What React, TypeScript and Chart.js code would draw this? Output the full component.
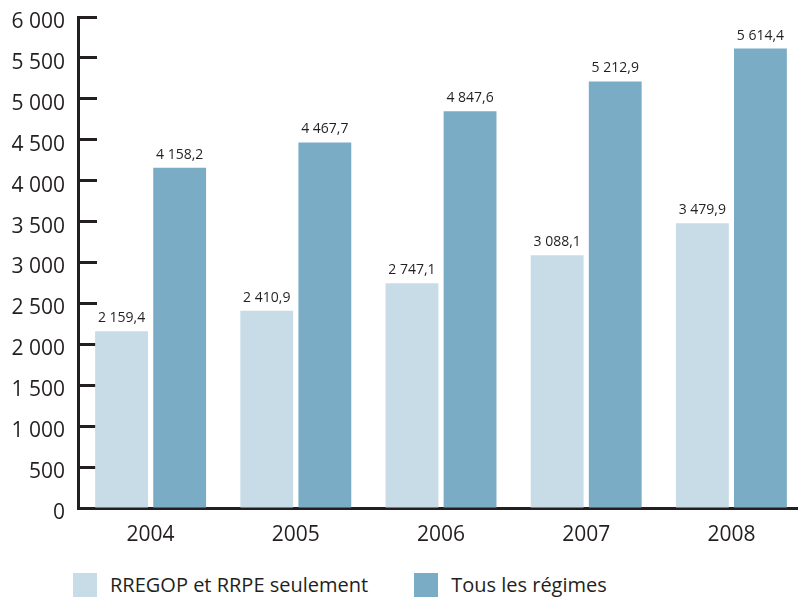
import React, { useEffect, useRef } from "react";
import { Chart, registerables } from "chart.js";

Chart.register(...registerables);

// Years on the category axis
const years = ["2004", "2005", "2006", "2007", "2008"];
// RREGOP and RRPE plans only
const rregopRrpe = [2159.4, 2410.9, 2747.1, 3088.1, 3479.9];
// All plans combined
const tousRegimes = [4158.2, 4467.7, 4847.6, 5212.9, 5614.4];
// Legend labels
const seriesLabels = ["RREGOP et RRPE seulement", "Tous les régimes"];

const LIGHT = "#c7dce6";
const DARK = "#7aacc5";
const INK = "#231f20";
const FONT = "'Open Sans', 'DejaVu Sans', sans-serif";

// French number formatting: space thousands, comma decimals
function frNumber(v: number, decimals: number): string {
  const fixed = v.toFixed(decimals);
  const [intPart, decPart] = fixed.split(".");
  const grouped = intPart.replace(/\B(?=(\d{3})+(?!\d))/g, " ");
  return decPart !== undefined ? `${grouped},${decPart}` : grouped;
}

const valueLabels = {
  id: "valueLabels",
  afterDatasetsDraw(chart: any) {
    const ctx = chart.ctx;
    ctx.save();
    ctx.font = `14px ${FONT}`;
    ctx.fillStyle = INK;
    ctx.textAlign = "center";
    ctx.textBaseline = "bottom";
    chart.data.datasets.forEach((ds: any, di: number) => {
      const meta = chart.getDatasetMeta(di);
      meta.data.forEach((bar: any, i: number) => {
        ctx.fillText(frNumber(ds.data[i], 1), bar.x, bar.y - 6);
      });
    });
    ctx.restore();
  },
};

export default function App() {
  const canvasRef = useRef<HTMLCanvasElement | null>(null);

  useEffect(() => {
    document.body.style.margin = "0";
    const canvas = canvasRef.current;
    if (!canvas) return;
    const chart = new Chart(canvas, {
      type: "bar",
      data: {
        labels: years,
        datasets: [
          {
            label: seriesLabels[0],
            data: rregopRrpe,
            backgroundColor: LIGHT,
            categoryPercentage: 0.8,
            barPercentage: 0.91,
          },
          {
            label: seriesLabels[1],
            data: tousRegimes,
            backgroundColor: DARK,
            categoryPercentage: 0.8,
            barPercentage: 0.91,
          },
        ],
      },
      options: {
        responsive: false,
        animation: false,
        layout: { padding: { top: 17, left: 0, right: 0, bottom: 0 } },
        plugins: {
          legend: { display: false },
          tooltip: { enabled: false },
        },
        scales: {
          x: {
            grid: { display: false },
            border: { display: true, color: INK, width: 3 },
            ticks: {
              color: INK,
              font: { family: FONT, size: 21 },
              padding: 6,
            },
            afterFit(scale: any) {
              scale.height = 52;
              scale.paddingLeft = 0;
              scale.paddingRight = 0;
            },
          },
          y: {
            min: 0,
            max: 6000,
            grid: {
              drawOnChartArea: false,
              drawTicks: true,
              tickLength: -19,
              tickWidth: 3,
              tickColor: INK,
            },
            border: { display: true, color: INK, width: 3 },
            ticks: {
              stepSize: 500,
              color: INK,
              font: { family: FONT, size: 21 },
              padding: 32,
              labelOffset: 5,
              callback: (v: any) => frNumber(Number(v), 0),
            },
            afterFit(scale: any) {
              scale.width = 78;
              scale.paddingTop = 0;
              scale.paddingBottom = 0;
            },
          },
        },
      },
      plugins: [valueLabels],
    });
    return () => chart.destroy();
  }, []);

  const legendText: React.CSSProperties = {
    fontFamily: FONT,
    fontSize: 20,
    color: INK,
    lineHeight: "24px",
    whiteSpace: "nowrap",
  };
  const swatch = (color: string): React.CSSProperties => ({
    width: 24,
    height: 24,
    background: color,
    marginRight: 13,
    flex: "none",
  });

  return (
    <div style={{ position: "relative", width: 798, height: 600, overflow: "hidden" }}>
      <canvas ref={canvasRef} width={804} height={560} style={{ display: "block" }} />
      <div
        style={{
          position: "absolute",
          left: 73,
          top: 573,
          display: "flex",
          alignItems: "center",
        }}
      >
        <div style={swatch(LIGHT)} />
        <span style={{ ...legendText, marginRight: 46 }}>{seriesLabels[0]}</span>
        <div style={swatch(DARK)} />
        <span style={legendText}>{seriesLabels[1]}</span>
      </div>
    </div>
  );
}
